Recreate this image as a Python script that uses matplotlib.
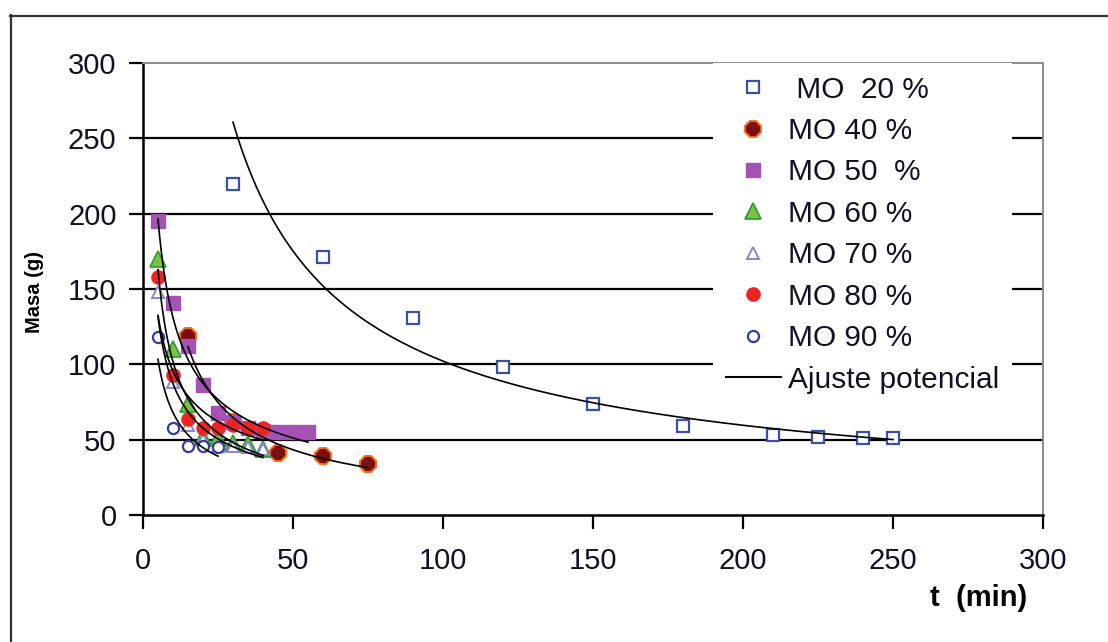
import numpy as np
import matplotlib
matplotlib.use("Agg")
import matplotlib.pyplot as plt
from matplotlib.lines import Line2D

plt.rcParams['font.family'] = ['Liberation Sans', 'DejaVu Sans']

# ---- data ----
t20 = [30, 60, 90, 120, 150, 180, 210, 225, 240, 250]
m20 = [220, 171, 131, 98, 74, 59, 53, 52, 51, 51]

t40 = [15, 30, 45, 60, 75]
m40 = [119, 62, 41, 39, 34]

t50 = [5, 10, 15, 20, 25, 30, 35, 40, 45, 50, 55]
m50 = [195, 141, 112, 86, 68, 62, 58, 56, 55, 55, 55]

t60 = [5, 10, 15, 20, 25, 30, 35, 40]
m60 = [170, 110, 74, 52, 51, 48, 47, 44]

t70 = [5, 10, 15, 20, 25, 30, 35, 40]
m70 = [148, 88, 60, 50, 46, 46, 45, 44]

t80 = [5, 10, 15, 20, 25, 30, 35, 40]
m80 = [158, 93, 64, 58, 58, 60, 58, 58]

t90 = [5, 10, 15, 20, 25]
m90 = [118, 58, 46, 46, 45]

labels = [" MO  20 %", "MO 40 %", "MO 50  %", "MO 60 %", "MO 70 %",
          "MO 80 %", "MO 90 %"]
fit_label = "Ajuste potencial"
yticks = [0, 50, 100, 150, 200, 250, 300]
xticks = [0, 50, 100, 150, 200, 250, 300]

W, H = 1108, 642
fig = plt.figure(figsize=(W / 100, H / 100), dpi=100)
fig.patch.set_facecolor('white')

# outer chart border (left & top visible)
fig.add_artist(Line2D([10.5 / W, 10.5 / W], [0, 1 - 15 / H], transform=fig.transFigure,
                      color='#333333', lw=1.6))
fig.add_artist(Line2D([10 / W, 1], [1 - 15.5 / H, 1 - 15.5 / H], transform=fig.transFigure,
                      color='#333333', lw=1.6))

ax = fig.add_axes([143 / W, 1 - 515 / H, 900 / W, 452 / H])
ax.set_xlim(0, 300)
ax.set_ylim(0, 300)
ax.set_xticks(xticks)
ax.set_yticks(yticks)
ax.tick_params(axis='both', direction='out', length=10, width=1.6, labelsize=21,
               color='black', labelcolor='#111122')
ax.tick_params(axis='x', pad=13)
ax.tick_params(axis='y', pad=9)
for s in ['left', 'bottom']:
    ax.spines[s].set_color('black')
    ax.spines[s].set_linewidth(1.8)
for s in ['top', 'right']:
    ax.spines[s].set_color('#8c8c8c')
    ax.spines[s].set_linewidth(1.4)

for yv in yticks[1:-1]:
    ax.axhline(yv, color='black', lw=1.6, zorder=1)

series = [
    (t20, m20, dict(marker='s', ms=8, mfc='white', mec='#3a4fa6', mew=1.6)),
    (t40, m40, dict(marker='8', ms=12, mfc='#7a0d0d', mec='#ff6a10', mew=1.4)),
    (t50, m50, dict(marker='s', ms=10, mfc='#a552b5', mec='#a552b5', mew=1)),
    (t60, m60, dict(marker='^', ms=12, mfc='#7cc242', mec='#2d9a37', mew=1.2)),
    (t70, m70, dict(marker='^', ms=8, mfc='white', mec='#8a86cc', mew=1.4)),
    (t80, m80, dict(marker='o', ms=9.5, mfc='#ee2424', mec='#ee2424', mew=1)),
    (t90, m90, dict(marker='o', ms=8, mfc='white', mec='#343c9c', mew=1.6)),
]

handles = []
for (t, m, st), lab in zip(series, labels):
    ax.plot(t, m, linestyle='none', zorder=3, **st)
    # power-law trendline (Excel "Ajuste potencial")
    b, a = np.polyfit(np.log(t), np.log(m), 1)
    tt = np.linspace(min(t), max(t), 200)
    ax.plot(tt, np.exp(a) * tt ** b, color='black', lw=1.2, zorder=4)
    handles.append(Line2D([], [], linestyle='none', label=lab, **st))
handles.append(Line2D([], [], color='black', lw=1.5, label=fit_label))

leg = ax.legend(handles=handles, loc='upper left',
                bbox_to_anchor=((713 - 143) / 900, 1.0), borderaxespad=0,
                borderpad=0.42, handlelength=1.85, handletextpad=0.25,
                labelspacing=0.45, fontsize=21.5, frameon=True, fancybox=False,
                facecolor='white', edgecolor='none', framealpha=1, numpoints=1)
for txt in leg.get_texts():
    txt.set_color('#111122')
leg.set_zorder(10)

fig.text(35 / W, 1 - 292 / H, "Masa (g)", rotation=90, ha='center', va='center',
         fontsize=14.5, fontweight='bold')
fig.text(979 / W, 1 - 598 / H, "t  (min)", ha='center', va='center',
         fontsize=21, fontweight='bold')

fig.savefig("out.png", dpi=100)
